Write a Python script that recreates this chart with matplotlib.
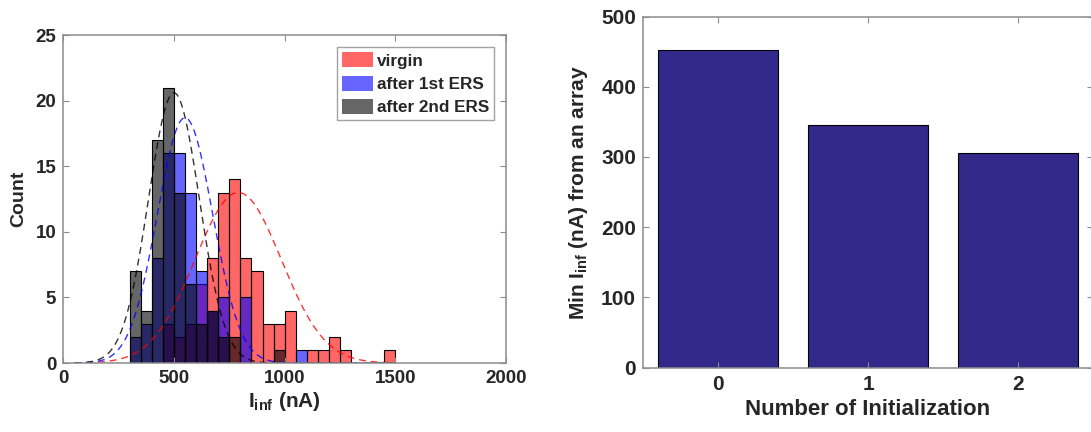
import numpy as np
import matplotlib
matplotlib.use("Agg")
import matplotlib.pyplot as plt

plt.rcParams['font.family'] = ['Liberation Sans', 'DejaVu Sans']
plt.rcParams['font.weight'] = 'bold'
plt.rcParams['axes.labelweight'] = 'bold'
plt.rcParams['mathtext.fontset'] = 'custom'
plt.rcParams['mathtext.rm'] = 'Liberation Sans:bold'
plt.rcParams['mathtext.it'] = 'Liberation Sans:bold'
plt.rcParams['mathtext.bf'] = 'Liberation Sans:bold'

# histogram data (bin left edges, 50 nA bins)
bin_left = [300, 350, 400, 450, 500, 550, 600, 650, 700, 750, 800, 850,
            900, 950, 1000, 1050, 1100, 1150, 1200, 1250, 1300, 1350, 1400, 1450]
bin_width = 50
virgin = [0, 0, 0, 3, 2, 3, 6, 8, 13, 14, 8, 7, 3, 3, 4, 0, 1, 1, 2, 1, 0, 0, 0, 1]
after_1st = [2, 3, 8, 16, 16, 13, 7, 4, 5, 0, 5, 0, 0, 0, 0, 1, 0, 0, 0, 0, 0, 0, 0, 0]
after_2nd = [7, 4, 17, 21, 13, 6, 3, 4, 2, 2, 0, 0, 0, 1, 0, 0, 0, 0, 0, 0, 0, 0, 0, 0]
series_names = ['virgin', 'after 1st ERS', 'after 2nd ERS']

# fitted normal curves: (mean, sigma, peak count)
fit_params = [(790, 195, 13.0), (550, 125, 18.7), (500, 115, 20.6)]

# bar chart data
init_number = [0, 1, 2]
min_iinf = [453, 345, 306]

colors = ['red', 'blue', 'black']
axis_gray = '#8c8c8c'
text_col = '#262626'

fig = plt.figure(figsize=(10.91, 4.32), dpi=100)

# ---- left: histograms ----
ax1 = fig.add_axes([0.058, 0.1597, 0.4058, 0.759])
for counts, c, name in zip([virgin, after_1st, after_2nd], colors, series_names):
    x = np.array(bin_left)
    h = np.array(counts)
    m = h > 0
    ax1.bar(x[m], h[m], width=bin_width, align='edge', color=c, alpha=0.6,
            edgecolor='none', label=name)
    ax1.bar(x[m], h[m], width=bin_width, align='edge', facecolor='none',
            edgecolor='black', linewidth=0.8)

xs = np.linspace(50, 1500, 400)
for (mu, sd, pk), c in zip(fit_params, colors):
    ax1.plot(xs, pk * np.exp(-(xs - mu) ** 2 / (2 * sd ** 2)), color=c,
             linestyle=(0, (5, 3.5)), linewidth=1.0, alpha=0.8)

ax1.set_xlim(0, 2000)
ax1.set_ylim(0, 25)
ax1.set_xticks([0, 500, 1000, 1500, 2000])
ax1.set_yticks([0, 5, 10, 15, 20, 25])
ax1.set_xlabel(r'I$_{\rm inf}$ (nA)', fontsize=15, fontweight='bold',
               color=text_col, labelpad=2)
ax1.set_ylabel('Count', fontsize=14, fontweight='bold', color=text_col, labelpad=6)
leg = ax1.legend(loc='upper right', fontsize=12.3, handlelength=1.85,
                 handleheight=1.0, handletextpad=0.2, labelspacing=0.4,
                 borderpad=0.3, borderaxespad=0.7, fancybox=False,
                 edgecolor=axis_gray)
for t in leg.get_texts():
    t.set_color(text_col)

# ---- right: bar chart ----
ax2 = fig.add_axes([0.5894, 0.1488, 0.4125, 0.813])
ax2.bar(init_number, min_iinf, width=0.8, color='#33298a', edgecolor='black',
        linewidth=0.8)
ax2.set_xlim(-0.5, 2.5)
ax2.set_ylim(0, 500)
ax2.set_xticks(init_number)
ax2.set_yticks([0, 100, 200, 300, 400, 500])
ax2.set_xlabel('Number of Initialization', fontsize=16, fontweight='bold',
               color=text_col, labelpad=4)
ax2.set_ylabel(r'Min I$_{\rm inf}$ (nA) from an array', fontsize=15,
               fontweight='bold', color=text_col, labelpad=8)

for ax, fs in [(ax1, 13.5), (ax2, 15)]:
    for s in ax.spines.values():
        s.set_color(axis_gray)
        s.set_linewidth(1.1)
    ax.tick_params(direction='in', top=True, right=True, length=4,
                   color=axis_gray, labelsize=fs, labelcolor=text_col, pad=5)

fig.savefig('out.png', dpi=100)
